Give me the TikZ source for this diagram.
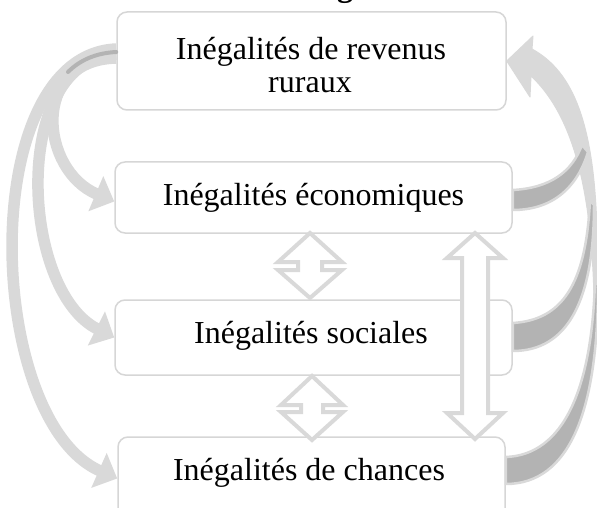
\documentclass[tikz,border=0pt]{standalone}
\usepackage{fontspec}
\setmainfont{Liberation Serif}
\usetikzlibrary{arrows.meta}
\definecolor{lightg}{HTML}{D9D9D9}
\definecolor{darkg}{HTML}{B3B3B3}
\definecolor{boxline}{HTML}{D6D6D6}
\tikzset{
  boxnode/.style={draw=boxline, line width=1.5pt, rounded corners=10pt, fill=white, inner sep=0pt},
  lbl/.style={font=\fontsize{32}{34}\selectfont, inner sep=0pt, anchor=base},
  leftarrow/.style={draw=lightg, line width=11.5pt, -{Triangle[width=37pt,length=20pt]}},
  shade/.style={draw=darkg, line width=4pt, line cap=round},
  band/.style={fill=darkg, draw=lightg, line width=2.5pt, line join=round},
  bigshaft/.style={fill=lightg, draw=lightg, line width=1pt, line join=round},
  dblarrow/.style={draw=lightg, fill=white, line width=4pt, line join=miter},
}
\begin{document}
\begin{tikzpicture}[x=1pt,y=-1pt]
\useasboundingbox (0,0) rectangle (597,508);
\clip (0,0) rectangle (597,508);
% fragment of a title cut at the top
\node[font=\fontsize{32}{34}\selectfont\bfseries, inner sep=0pt, anchor=base] (title) at (345,-3.6) {g};
% boxes
\node[boxnode, minimum width=389pt, minimum height=98pt] (top) at (311.5,61) {};
\node[boxnode, minimum width=397pt, minimum height=71pt] (box2) at (313.5,197.5) {};
\node[boxnode, minimum width=397pt, minimum height=75pt] (box3) at (313.5,337.5) {};
\node[boxnode, minimum width=387pt, minimum height=83pt] (box4) at (311.5,478.5) {};
% labels
\node[lbl] (t1a) at (311,59.3) {Inégalités de revenus};
\node[lbl] (t1b) at (310,92.7) {ruraux};
\node[lbl] (t2) at (313.5,205) {Inégalités économiques};
\node[lbl] (t3) at (311,343) {Inégalités sociales};
\node[lbl] (t4) at (309,480) {Inégalités de chances};
% left curved arrows
\draw[leftarrow] ([yshift=12pt]top.west) .. controls (-25,55) and (-15,420) .. (box4.west);
\draw[leftarrow] ([yshift=7pt]top.west) .. controls (10,60) and (20,290) .. (box3.west);
\draw[leftarrow] ([yshift=3pt]top.west) .. controls (30,60) and (40,170) .. ([yshift=-4pt]box2.west);
\draw[shade] ([yshift=9pt]top.west) .. controls (96,53) and (80,60) .. (68,72);
% right big arrow into top box
\path[bigshaft] (top.east) -- (533,36) -- (532,49) .. controls (574,72) and (594,125) .. (597,230)
  -- (597,300) -- (594,300) .. controls (592,205) and (578,120) .. (531,76) -- (530,97) -- cycle;
% bands from the lower boxes
\path[band] ([yshift=7.5pt]box2.east) .. controls (550,188) and (572,172) .. (582,145)
  -- (588,152) .. controls (578,185) and (555,210) .. ([yshift=-12.5pt]box2.east) -- cycle;
\path[band] ([yshift=14.5pt]box3.east) .. controls (562,320) and (586,285) .. (590,200)
  -- (594,205) .. controls (594,300) and (568,351) .. ([yshift=-13.5pt]box3.east) -- cycle;
\path[band] ([yshift=21.5pt]box4.east) .. controls (563,455) and (592,390) .. (595,280)
  -- (598,285) .. controls (598,410) and (570,484) .. ([yshift=-5.5pt]box4.east) -- cycle;
% double arrows
\draw[dblarrow] (310,233) -- (342,262) -- (322,262) -- (322,270) -- (342,270) -- (310,298)
  -- (278,270) -- (298,270) -- (298,262) -- (278,262) -- cycle;
\draw[dblarrow] (312,376) -- (343,405) -- (323,405) -- (323,412) -- (343,412) -- (312,440)
  -- (281,412) -- (301,412) -- (301,405) -- (281,405) -- cycle;
\draw[dblarrow] (475,233) -- (503,258) -- (488,258) -- (488,413) -- (503,413) -- (475,439)
  -- (447,413) -- (462,413) -- (462,258) -- (447,258) -- cycle;
\end{tikzpicture}
\end{document}
